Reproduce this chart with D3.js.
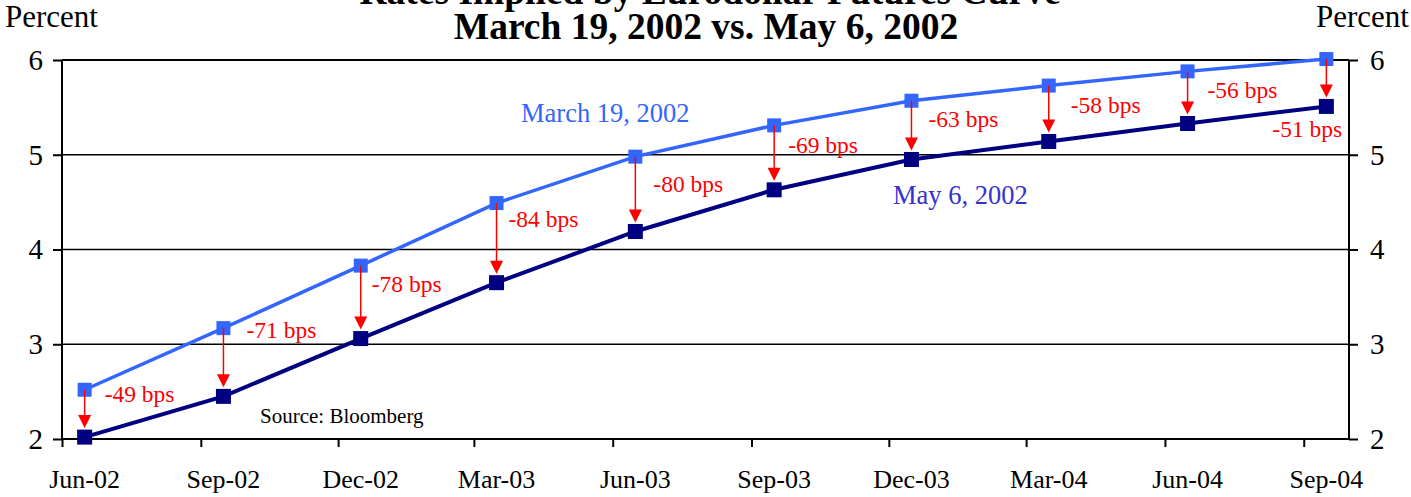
<!DOCTYPE html>
<html>
<head>
<meta charset="utf-8">
<script src="https://cdn.jsdelivr.net/npm/d3@7"></script>
<style>
  body { margin: 0; background: #fff; }
  svg { display: block; font-family: 'Liberation Serif', 'Times New Roman', serif; }
</style>
</head>
<body>
<div id="chart"></div>
<script>
// contract months shown on the axis
var quarters = ['Jun-02', 'Sep-02', 'Dec-02', 'Mar-03', 'Jun-03', 'Sep-03', 'Dec-03', 'Mar-04', 'Jun-04', 'Sep-04']
// implied rates, percent
var march19 = [2.52, 3.17, 3.83, 4.49, 4.98, 5.31, 5.57, 5.73, 5.88, 6.01]
var may6 = [2.02, 2.45, 3.06, 3.65, 4.19, 4.63, 4.95, 5.14, 5.33, 5.51]
var changeLabels = ['-49 bps', '-71 bps', '-78 bps', '-84 bps', '-80 bps', '-69 bps', '-63 bps', '-58 bps', '-56 bps', '-51 bps']
var yTicks = [2, 3, 4, 5, 6]

var width = 1411
var height = 497
var plot = { left: 62, right: 1349, top: 60, bottom: 439 }

var LIGHT = '#3366ff'
var DARK = '#000080'
var RED = '#ff0000'

// label offsets from the March 19 point (left edge, baseline)
var labelNudge = [[20, 12], [23, 10], [11, 26], [12, 24], [18, 35], [14, 28], [17, 26], [22, 27], [20, 27], [-54, 78]]

var parseMonth = d3.timeParse('%b-%y')
var monthStarts = quarters.map(parseMonth)
// futures settle mid-month
var pointDates = monthStarts.map(function (d) { return d3.timeDay.offset(d, 15) })

var x = d3.scaleTime()
  .domain([monthStarts[0], d3.timeMonth.offset(monthStarts[monthStarts.length - 1], 1)])
  .range([plot.left, plot.right])

var y = d3.scaleLinear()
  .domain([2, 6])
  .range([plot.bottom, plot.top])

var svg = d3.select('#chart').append('svg')
  .attr('width', width)
  .attr('height', height)

// title
svg.append('text')
  .attr('x', 710).attr('y', 4)
  .attr('text-anchor', 'middle')
  .attr('font-size', 37.5).attr('font-weight', 'bold')
  .text('Rates Implied by Eurodollar Futures Curve')
svg.append('text')
  .attr('x', 706).attr('y', 39)
  .attr('text-anchor', 'middle')
  .attr('font-size', 37.5).attr('font-weight', 'bold')
  .text('March 19, 2002 vs. May 6, 2002')

svg.append('text')
  .attr('x', 5).attr('y', 27)
  .attr('font-size', 31)
  .text('Percent')
svg.append('text')
  .attr('x', 1409).attr('y', 27)
  .attr('text-anchor', 'end')
  .attr('font-size', 31)
  .text('Percent')

// gridlines
svg.append('g')
  .selectAll('line')
  .data(yTicks.slice(1))
  .enter().append('line')
  .attr('x1', plot.left).attr('x2', plot.right)
  .attr('y1', function (d) { return y(d) }).attr('y2', function (d) { return y(d) })
  .attr('stroke', '#000')
  .attr('stroke-width', function (d) { return d === 6 ? 2 : 1.5 })

// axes
var leftAxis = svg.append('g')
  .attr('transform', 'translate(' + plot.left + ',0)')
  .call(d3.axisLeft(y).tickValues(yTicks).tickFormat(d3.format('d')).tickSize(9).tickPadding(10))
var rightAxis = svg.append('g')
  .attr('transform', 'translate(' + plot.right + ',0)')
  .call(d3.axisRight(y).tickValues(yTicks).tickFormat(d3.format('d')).tickSize(9).tickPadding(12))
var bottomAxis = svg.append('g')
  .attr('transform', 'translate(0,' + plot.bottom + ')')
  .call(d3.axisBottom(x).tickValues(monthStarts).tickSize(8).tickFormat(''))

;[leftAxis, rightAxis, bottomAxis].forEach(function (g) {
  g.select('.domain').attr('stroke', '#000').attr('stroke-width', 2)
  g.selectAll('.tick line').attr('stroke', '#000').attr('stroke-width', 2)
  g.selectAll('.tick text')
    .attr('fill', '#000')
    .attr('font-family', "'Liberation Serif', 'Times New Roman', serif")
    .attr('font-size', 29)
})
bottomAxis.select('.domain').attr('d', 'M' + plot.left + ',0H' + plot.right)
leftAxis.select('.domain').attr('d', 'M0,' + plot.top + 'V' + plot.bottom)
rightAxis.select('.domain').attr('d', 'M0,' + plot.top + 'V' + plot.bottom)

// month labels sit under the contract points
svg.append('g')
  .selectAll('text')
  .data(quarters)
  .enter().append('text')
  .attr('x', function (d, i) { return x(pointDates[i]) })
  .attr('y', 488)
  .attr('text-anchor', 'middle')
  .attr('font-size', 26)
  .text(function (d) { return d })

var line = d3.line()
  .x(function (d, i) { return x(pointDates[i]) })
  .y(function (d) { return y(d) })

function drawSeries (values, color, size, strokeWidth) {
  var g = svg.append('g')
  g.append('path')
    .datum(values)
    .attr('d', line)
    .attr('fill', 'none')
    .attr('stroke', color)
    .attr('stroke-width', strokeWidth)
  g.selectAll('rect')
    .data(values)
    .enter().append('rect')
    .attr('x', function (d, i) { return x(pointDates[i]) - size / 2 })
    .attr('y', function (d) { return y(d) - size / 2 })
    .attr('width', size)
    .attr('height', size)
    .attr('fill', color)
}

drawSeries(march19, LIGHT, 14, 3.5)
drawSeries(may6, DARK, 15, 4)

// change arrows
var arrows = svg.append('g')
march19.forEach(function (v, i) {
  var cx = x(pointDates[i])
  var y0 = y(v)
  var tip = y(may6[i]) - 9
  arrows.append('line')
    .attr('x1', cx).attr('x2', cx)
    .attr('y1', y0).attr('y2', tip - 10)
    .attr('stroke', RED)
    .attr('stroke-width', 1.5)
  arrows.append('path')
    .attr('d', 'M' + (cx - 6.5) + ',' + (tip - 13) + 'L' + (cx + 6.5) + ',' + (tip - 13) + 'L' + cx + ',' + tip + 'Z')
    .attr('fill', RED)
})

svg.append('g')
  .selectAll('text')
  .data(changeLabels)
  .enter().append('text')
  .attr('x', function (d, i) { return x(pointDates[i]) + labelNudge[i][0] })
  .attr('y', function (d, i) { return y(march19[i]) + labelNudge[i][1] })
  .attr('font-size', 23.5)
  .attr('fill', RED)
  .text(function (d) { return d })

// series labels
svg.append('text')
  .attr('x', 521).attr('y', 122)
  .attr('font-size', 26.5)
  .attr('fill', LIGHT)
  .text('March 19, 2002')
svg.append('text')
  .attr('x', 893).attr('y', 204)
  .attr('font-size', 26.5)
  .attr('fill', '#3333cc')
  .text('May 6, 2002')

svg.append('text')
  .attr('x', 260).attr('y', 423)
  .attr('font-size', 21)
  .text('Source: Bloomberg')
</script>
</body>
</html>
